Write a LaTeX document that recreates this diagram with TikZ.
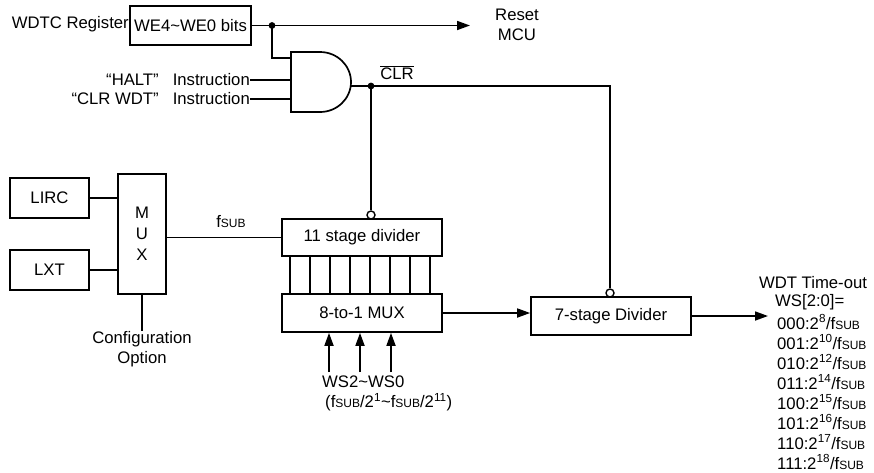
\documentclass[tikz,border=0pt]{standalone}
\usepackage{fontspec}
\setmainfont{Liberation Sans}
\usetikzlibrary{arrows.meta,calc}
\newcommand\fsubtxt{f{\fontsize{12}{12}\selectfont SUB}}
\begin{document}
\begin{tikzpicture}[x=1pt,y=-1pt,
  every node/.style={font=\fontsize{16.7}{20}\selectfont},
  wire/.style={line width=1.7pt},
  blk/.style={draw,line width=1.7pt,inner sep=0pt},
  arr/.style={line width=1.7pt,-{Triangle[length=13pt,width=9pt]}},
  bubble/.style={draw,circle,line width=1.4pt,minimum size=8pt,inner sep=0pt,fill=white},
  lbl/.style={inner sep=0pt}]
\useasboundingbox (0,0) rectangle (874,472);
% top
\node[lbl,anchor=east] (wdtc) at (129,24) {WDTC Register};
\node[blk,minimum width=121pt,minimum height=39pt] (we) at (190.5,25.5) {WE4\textasciitilde WE0 bits};
\node[align=center] (reset) at (517,25) {Reset\\MCU};
\coordinate (j1) at (272,25.5);
\coordinate (rst) at (470,25.5);
\draw[arr] (we.east) -- (rst);
% AND gate
\draw[wire] (291,52) -- (320,52) arc[start angle=-90,end angle=90,x radius=31,y radius=30] -- (291,112) -- cycle;
\coordinate (g1) at (291,58);
\coordinate (g2) at (291,80);
\coordinate (g3) at (291,99);
\coordinate (gout) at (350.6,86);
\draw[wire] (j1) |- (g1);
\fill (j1) circle (3.4);
\node[lbl,anchor=east] (halt) at (250,80) {“HALT”\hspace{14pt}Instruction};
\node[lbl,anchor=east] (clrwdt) at (250,99) {“CLR WDT”\hspace{14pt}Instruction};
\draw[wire] (halt.east) -- (g2);
\draw[wire] (clrwdt.east) -- (g3);
\node (clr) at (397,73) {$\overline{\mbox{CLR}}$};
% clock sources
\node[blk,minimum width=79pt,minimum height=40pt] (lirc) at (49.5,198) {LIRC};
\node[blk,minimum width=79pt,minimum height=40pt] (lxt) at (49.5,270) {LXT};
\node[blk,minimum width=48pt,minimum height=120pt,align=center,font=\fontsize{16.7}{21}\selectfont] (mux) at (142,234) {M\\U\\X};
\draw[wire] (lirc.east) -- (lirc.east -| mux.west);
\draw[wire] (lxt.east) -- (lxt.east -| mux.west);
\node[lbl,align=center,anchor=north] (cfg) at (142,331) {Configuration\\Option};
\draw[wire] (mux.south) -- (cfg.north);
% dividers
\node[blk,minimum width=160pt,minimum height=37pt] (div11) at (362,237.5) {11 stage divider};
\node[blk,minimum width=160pt,minimum height=38pt] (mux8) at (362,313) {8-to-1 MUX};
\node[blk,minimum width=160pt,minimum height=38pt] (div7) at (611,316) {7-stage Divider};
\draw[wire] (mux.east |- div11.west) -- (div11.west);
\node (fsub) at (231,222) {\fsubtxt};
\foreach \i in {0,...,7}
  \draw[wire] ($(div11.south west)+(9+20*\i,0)$) -- ($(mux8.north west)+(9+20*\i,0)$);
\node[bubble] (b11) at (371,215) {};
\node[bubble] (b7) at (610,293) {};
\coordinate (j2) at (371,86);
\coordinate (c7) at (610,86);
\draw[wire] (gout) -- (j2) -- (c7) -- (b7.north);
\draw[wire] (j2) -- (b11.north);
\fill (j2) circle (3.4);
% select inputs
\coordinate (wsa) at (329,372);
\coordinate (wsb) at (360,372);
\coordinate (wsc) at (391,372);
\draw[arr] (wsa) -- (wsa |- mux8.south);
\draw[arr] (wsb) -- (wsb |- mux8.south);
\draw[arr] (wsc) -- (wsc |- mux8.south);
\node[lbl,anchor=west] (wst) at (322,382) {WS2\textasciitilde WS0};
\node[lbl,anchor=west] (wsr) at (325,402) {(\fsubtxt/2\textsuperscript{1}\textasciitilde\fsubtxt/2\textsuperscript{11})};
% output
\draw[arr] (mux8.east) -- (mux8.east -| div7.west);
\coordinate (wout) at (768,316);
\draw[arr] (div7.east) -- (wout);
\node (wdtt) at (813,283) {WDT Time-out};
\node[lbl,anchor=west] (wseq) at (775,302) {WS[2:0]=};
\foreach \c/\e [count=\i] in {000/8,001/10,010/12,011/14,100/15,101/16,110/17,111/18}
  \node[lbl,anchor=west] (l\i) at (777,{302+20*\i}) {\c:2\textsuperscript{\e}/\fsubtxt};
\end{tikzpicture}
\end{document}
